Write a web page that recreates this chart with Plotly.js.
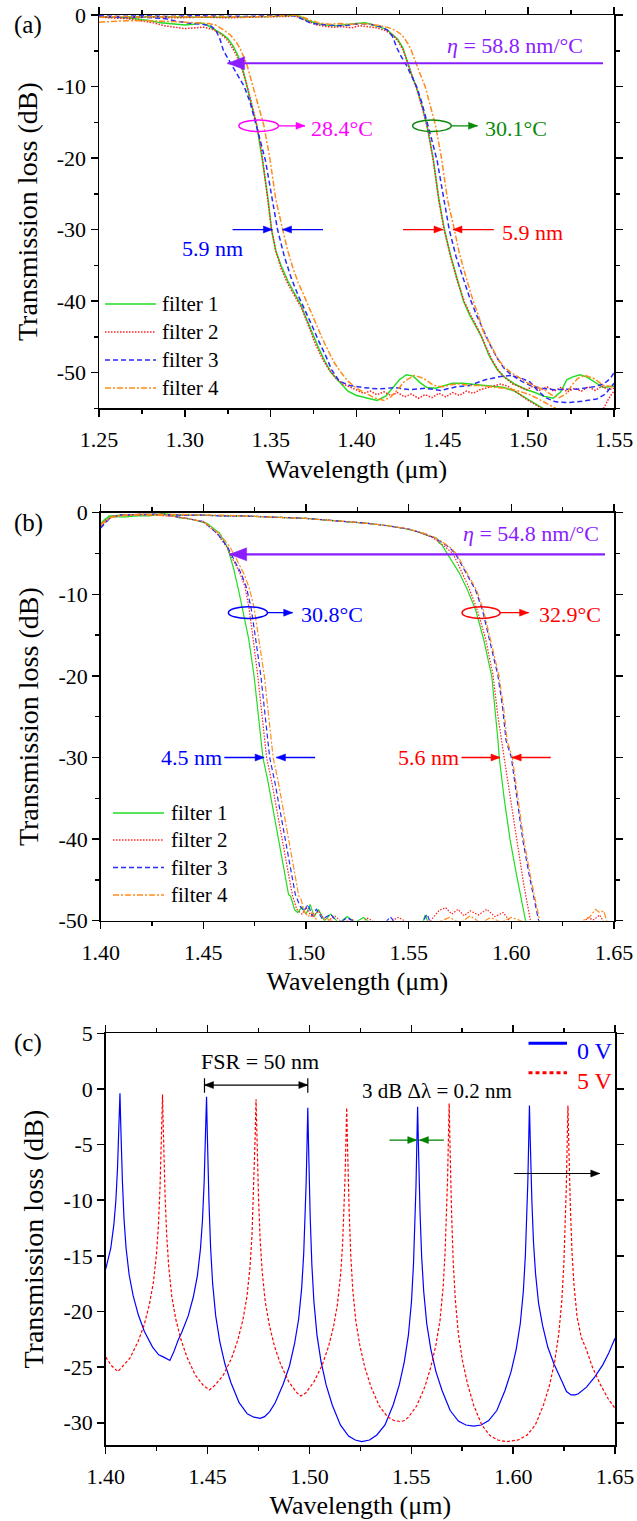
<!DOCTYPE html>
<html>
<head>
<meta charset="utf-8">
<script src="https://cdn.plot.ly/plotly-3.0.1.min.js"></script>
<style>html,body{margin:0;padding:0;background:#fff;}#plot{width:637px;height:1521px;}</style>
</head>
<body>
<div id="plot"></div>
<script>
const FONT = '"Liberation Serif", "Times New Roman", Times, serif';
const GREEN = '#22dd22', RED = '#ff2020', BLUE = '#2a2aff', ORANGE = '#ff8c1a';
const PURPLE = '#8a1cff', MAGENTA = '#ff00ff', DKGREEN = '#0a8a0a';

// ---------- panel (a): [wavelength um, loss dB] ----------
const a_f1_284 = [[1.250,-0.3],[1.260,-0.3],[1.270,-0.5],[1.280,-0.8],[1.286,-1.1],[1.295,-1.3],[1.300,-1.4],[1.305,-1.3],[1.309,-1.1],[1.313,-1.4],[1.318,-2.1],[1.322,-2.7],[1.325,-3.3],[1.328,-4.3],[1.331,-5.7],[1.334,-7.8],[1.336,-9.8],[1.339,-12.6],[1.342,-15.6],[1.345,-20.0],[1.3485,-25.8],[1.3505,-30.0],[1.353,-33.0],[1.356,-35.0],[1.360,-37.2],[1.364,-39.0],[1.3675,-40.5],[1.371,-42.6],[1.3747,-44.8],[1.378,-46.6],[1.3815,-48.4],[1.3852,-50.0],[1.390,-51.3],[1.395,-52.6],[1.400,-53.2],[1.406,-53.5],[1.412,-53.9],[1.417,-53.3],[1.421,-52.2],[1.425,-51.0],[1.429,-50.3],[1.433,-50.5],[1.437,-51.4],[1.441,-52.1],[1.446,-52.2],[1.451,-51.8],[1.456,-51.5],[1.462,-51.5],[1.470,-51.7],[1.478,-51.9],[1.486,-52.1],[1.492,-52.6],[1.497,-53.3],[1.502,-54.0],[1.507,-54.8],[1.512,-55.5],[1.518,-56.5]];
const a_f1_301 = [[1.250,-0.2],[1.262,-0.3],[1.275,-0.2],[1.290,-0.3],[1.305,-0.3],[1.320,-0.3],[1.335,-0.3],[1.350,-0.2],[1.360,-0.1],[1.364,0.0],[1.368,-0.3],[1.372,-0.8],[1.377,-1.2],[1.382,-1.4],[1.388,-1.5],[1.394,-1.4],[1.400,-1.2],[1.405,-1.1],[1.410,-1.4],[1.414,-1.7],[1.418,-2.1],[1.421,-2.7],[1.424,-3.4],[1.427,-4.6],[1.4298,-6.7],[1.432,-8.3],[1.435,-10.2],[1.438,-12.6],[1.441,-15.4],[1.4446,-20.0],[1.448,-25.8],[1.4512,-30.0],[1.455,-33.8],[1.459,-37.2],[1.4623,-40.0],[1.466,-42.0],[1.4695,-43.6],[1.4729,-45.0],[1.477,-47.5],[1.482,-49.6],[1.486,-50.6],[1.492,-51.6],[1.499,-52.4],[1.504,-52.8],[1.5088,-53.3],[1.5146,-53.6],[1.519,-52.7],[1.5225,-51.0],[1.526,-50.6],[1.5302,-50.3],[1.534,-50.6],[1.538,-51.2],[1.5438,-52.1],[1.550,-51.9]];
const a_f2_284 = [[1.250,-0.3],[1.258,-0.4],[1.266,-0.5],[1.274,-0.8],[1.282,-1.1],[1.288,-1.5],[1.294,-1.7],[1.300,-1.9],[1.306,-1.8],[1.311,-1.7],[1.316,-2.0],[1.320,-2.5],[1.324,-3.3],[1.327,-4.3],[1.330,-5.6],[1.333,-7.4],[1.336,-9.6],[1.339,-12.4],[1.342,-15.4],[1.345,-19.6],[1.348,-25.2],[1.3505,-30.0],[1.353,-33.0],[1.356,-35.4],[1.360,-37.6],[1.364,-39.2],[1.368,-41.0],[1.372,-43.4],[1.376,-46.0],[1.380,-48.0],[1.384,-49.6],[1.388,-50.8],[1.392,-51.6],[1.396,-52.0],[1.400,-52.4],[1.404,-52.9],[1.408,-52.6],[1.412,-53.1],[1.416,-52.7],[1.420,-53.2],[1.424,-52.8],[1.428,-53.4],[1.432,-53.0],[1.436,-53.6],[1.440,-53.1],[1.444,-53.5],[1.448,-52.9],[1.452,-53.4],[1.456,-52.8],[1.460,-53.2],[1.464,-52.6],[1.468,-52.9],[1.472,-52.4],[1.476,-52.1],[1.480,-51.8],[1.484,-51.6],[1.488,-51.9],[1.492,-52.5],[1.496,-53.2],[1.500,-53.9],[1.504,-54.4],[1.508,-55.0],[1.512,-56.0],[1.540,-56.0],[1.544,-55.0],[1.547,-53.6],[1.550,-52.6]];
const a_f2_301 = [[1.250,-0.3],[1.265,-0.4],[1.280,-0.3],[1.295,-0.4],[1.310,-0.3],[1.325,-0.4],[1.340,-0.3],[1.352,-0.3],[1.360,-0.2],[1.364,-0.1],[1.368,-0.5],[1.372,-1.0],[1.377,-1.4],[1.382,-1.6],[1.387,-1.7],[1.392,-1.6],[1.397,-1.8],[1.402,-1.5],[1.407,-1.6],[1.412,-1.8],[1.417,-2.2],[1.421,-2.8],[1.424,-3.6],[1.427,-4.8],[1.430,-6.8],[1.433,-8.9],[1.436,-11.0],[1.439,-13.6],[1.442,-16.5],[1.445,-20.8],[1.448,-26.0],[1.451,-30.0],[1.455,-34.0],[1.459,-37.4],[1.463,-40.2],[1.467,-42.2],[1.471,-44.0],[1.475,-46.2],[1.479,-48.3],[1.483,-49.8],[1.487,-50.8],[1.491,-51.6],[1.495,-52.0],[1.499,-52.4],[1.503,-51.9],[1.507,-52.5],[1.511,-52.0],[1.515,-52.6],[1.519,-52.1],[1.523,-52.7],[1.527,-52.2],[1.531,-52.6],[1.535,-52.0],[1.539,-52.5],[1.543,-51.9],[1.547,-52.4],[1.550,-52.2]];
const a_f3_284 = [[1.250,-0.2],[1.262,-0.3],[1.275,-0.3],[1.288,-0.5],[1.296,-0.9],[1.304,-1.2],[1.310,-1.3],[1.315,-1.5],[1.318,-2.1],[1.3205,-3.4],[1.3225,-5.0],[1.325,-6.0],[1.328,-7.2],[1.3315,-8.6],[1.3346,-10.0],[1.338,-12.2],[1.341,-14.8],[1.344,-17.6],[1.347,-20.4],[1.3505,-25.2],[1.354,-30.0],[1.358,-33.8],[1.362,-36.8],[1.366,-39.2],[1.370,-41.2],[1.374,-43.4],[1.378,-45.6],[1.382,-47.6],[1.3855,-49.6],[1.390,-51.2],[1.396,-51.8],[1.404,-52.1],[1.413,-52.3],[1.422,-52.1],[1.431,-52.4],[1.440,-52.2],[1.449,-52.5],[1.458,-52.0],[1.466,-51.8],[1.475,-51.0],[1.483,-50.6],[1.490,-50.4],[1.496,-50.8],[1.501,-51.3],[1.505,-52.4],[1.510,-53.5],[1.516,-54.1],[1.524,-54.2],[1.532,-54.0],[1.540,-53.7],[1.545,-53.0],[1.550,-51.5]];
const a_f3_301 = [[1.250,-0.1],[1.262,-0.2],[1.275,-0.1],[1.290,-0.2],[1.305,-0.1],[1.320,-0.2],[1.335,-0.2],[1.350,-0.1],[1.360,0.0],[1.365,-0.2],[1.369,-0.6],[1.373,-1.1],[1.378,-1.3],[1.384,-1.4],[1.390,-1.5],[1.396,-1.4],[1.402,-1.2],[1.408,-1.3],[1.414,-1.6],[1.418,-2.1],[1.421,-3.0],[1.4235,-4.6],[1.426,-5.8],[1.429,-7.0],[1.432,-8.4],[1.435,-10.0],[1.438,-12.2],[1.441,-14.8],[1.444,-17.6],[1.447,-20.4],[1.4505,-25.2],[1.454,-30.0],[1.458,-33.8],[1.462,-36.8],[1.466,-39.6],[1.470,-42.0],[1.474,-44.2],[1.478,-46.2],[1.482,-48.0],[1.486,-49.4],[1.490,-50.3],[1.496,-51.2],[1.502,-51.9],[1.508,-52.2],[1.515,-52.4],[1.522,-52.4],[1.530,-52.3],[1.538,-52.0],[1.544,-51.6],[1.548,-50.8],[1.550,-50.0]];
const a_f4_284 = [[1.250,-1.0],[1.258,-0.9],[1.266,-0.8],[1.275,-0.8],[1.284,-0.8],[1.292,-0.9],[1.300,-1.0],[1.308,-1.1],[1.314,-1.2],[1.318,-1.4],[1.322,-2.0],[1.3265,-2.8],[1.330,-3.8],[1.332,-4.6],[1.334,-5.6],[1.336,-6.8],[1.3397,-10.0],[1.343,-12.8],[1.346,-15.4],[1.3495,-20.0],[1.353,-25.8],[1.357,-30.0],[1.360,-33.0],[1.363,-35.4],[1.366,-37.4],[1.369,-39.0],[1.3725,-41.0],[1.376,-43.0],[1.380,-45.2],[1.384,-47.2],[1.387,-48.6],[1.391,-50.0],[1.395,-51.2],[1.400,-52.2],[1.405,-52.9],[1.410,-53.5],[1.416,-53.9],[1.420,-53.4],[1.424,-52.4],[1.428,-51.2],[1.4338,-50.4],[1.439,-50.8],[1.445,-51.8],[1.450,-52.0],[1.455,-51.7],[1.460,-51.6],[1.466,-51.8],[1.472,-51.8],[1.478,-52.0],[1.484,-52.2],[1.490,-52.3],[1.496,-52.7],[1.501,-53.1],[1.506,-53.7],[1.511,-54.3],[1.516,-55.0],[1.521,-56.0]];
const a_f4_301 = [[1.250,-0.3],[1.262,-0.2],[1.275,-0.3],[1.290,-0.2],[1.305,-0.3],[1.320,-0.2],[1.335,-0.3],[1.350,-0.2],[1.358,-0.1],[1.363,0.0],[1.368,-0.2],[1.373,-0.7],[1.378,-1.1],[1.384,-1.3],[1.390,-1.2],[1.396,-1.3],[1.402,-1.2],[1.408,-1.3],[1.414,-1.5],[1.419,-1.8],[1.423,-2.2],[1.4265,-2.8],[1.430,-4.0],[1.432,-5.0],[1.4345,-6.7],[1.437,-8.2],[1.440,-10.0],[1.443,-12.6],[1.446,-15.4],[1.4495,-20.0],[1.453,-25.8],[1.457,-30.0],[1.460,-33.4],[1.463,-36.0],[1.466,-38.4],[1.468,-40.0],[1.471,-42.0],[1.4735,-44.0],[1.4753,-45.0],[1.478,-46.0],[1.482,-48.0],[1.486,-49.2],[1.490,-50.0],[1.495,-50.8],[1.500,-51.5],[1.505,-52.0],[1.510,-52.5],[1.514,-53.2],[1.518,-53.5],[1.522,-53.0],[1.526,-51.6],[1.529,-50.8],[1.533,-50.4],[1.538,-50.8],[1.544,-51.8],[1.550,-52.0]];

// ---------- panel (b) ----------
const b_f1_308 = [[1.400,-1.6],[1.402,-1.0],[1.404,-0.4],[1.407,-0.5],[1.412,-0.5],[1.418,-0.4],[1.424,-0.4],[1.430,-0.1],[1.434,-0.2],[1.438,-0.6],[1.444,-0.8],[1.4518,-1.3],[1.4579,-2.5],[1.4618,-4.3],[1.4648,-6.9],[1.4674,-9.8],[1.4693,-12.2],[1.4721,-15.5],[1.4747,-20.0],[1.4777,-27.0],[1.4790,-30.0],[1.4815,-33.0],[1.4836,-36.0],[1.4866,-40.1],[1.4896,-44.2],[1.4915,-46.8],[1.4925,-47.0],[1.4945,-48.7],[1.496,-49.0],[1.498,-48.3],[1.500,-49.2],[1.502,-48.0],[1.504,-49.5],[1.506,-48.6],[1.509,-50.0],[1.512,-49.2],[1.516,-50.3],[1.520,-49.5],[1.524,-50.2],[1.528,-49.6],[1.532,-50.4],[1.536,-51.0],[1.556,-51.0],[1.558,-49.3],[1.560,-50.5]];
const b_f1_329 = [[1.400,-1.3],[1.402,-0.8],[1.405,-0.4],[1.410,-0.3],[1.420,-0.2],[1.430,-0.2],[1.440,-0.3],[1.450,-0.3],[1.460,-0.4],[1.470,-0.4],[1.480,-0.5],[1.490,-0.6],[1.500,-0.7],[1.510,-0.9],[1.520,-1.1],[1.530,-1.3],[1.540,-1.6],[1.549,-2.0],[1.555,-2.4],[1.559,-2.8],[1.5635,-3.1],[1.5647,-3.7],[1.5660,-3.9],[1.5688,-5.0],[1.5747,-7.4],[1.5787,-9.5],[1.5826,-11.9],[1.5866,-15.6],[1.5905,-20.1],[1.5935,-27.9],[1.5941,-30.0],[1.5965,-35.0],[1.5994,-40.1],[1.6024,-44.2],[1.6045,-47.0],[1.6069,-50.0],[1.6085,-51.0],[1.612,-52.0]];
const b_f2_308 = [[1.400,-1.8],[1.402,-1.2],[1.405,-0.6],[1.410,-0.3],[1.418,-0.2],[1.426,-0.3],[1.434,-0.4],[1.442,-0.7],[1.450,-1.1],[1.4565,-2.5],[1.4614,-4.2],[1.4645,-5.8],[1.4678,-7.4],[1.4703,-9.1],[1.4722,-11.6],[1.4740,-15.0],[1.4765,-20.0],[1.4795,-27.0],[1.4808,-30.0],[1.4833,-33.0],[1.4854,-36.0],[1.4884,-40.1],[1.4914,-44.2],[1.4935,-47.0],[1.4955,-48.6],[1.498,-49.2],[1.500,-48.4],[1.503,-49.6],[1.506,-48.8],[1.510,-50.2],[1.514,-49.4],[1.518,-50.3],[1.522,-49.8],[1.526,-50.4],[1.530,-49.7],[1.535,-50.4],[1.540,-50.2],[1.545,-49.6],[1.550,-50.3],[1.555,-50.6],[1.560,-50.2],[1.565,-48.7],[1.568,-48.4],[1.571,-49.2],[1.574,-48.6],[1.577,-49.4],[1.580,-48.8],[1.584,-49.3],[1.588,-48.6],[1.592,-49.5],[1.596,-49.0],[1.600,-50.3],[1.604,-51.0],[1.634,-51.0],[1.637,-49.6],[1.640,-49.9],[1.643,-49.3],[1.646,-50.6]];
const b_f2_329 = [[1.400,-1.5],[1.402,-1.0],[1.405,-0.5],[1.410,-0.3],[1.420,-0.2],[1.430,-0.2],[1.440,-0.3],[1.450,-0.3],[1.460,-0.4],[1.470,-0.4],[1.480,-0.5],[1.490,-0.6],[1.500,-0.7],[1.510,-0.9],[1.520,-1.1],[1.530,-1.3],[1.540,-1.6],[1.550,-2.0],[1.556,-2.5],[1.561,-3.0],[1.565,-3.6],[1.568,-4.2],[1.5715,-5.0],[1.575,-6.8],[1.5795,-9.3],[1.5835,-12.0],[1.5875,-15.5],[1.591,-19.8],[1.5935,-25.0],[1.5965,-30.0],[1.5995,-35.0],[1.603,-41.0],[1.606,-45.5],[1.6093,-50.0],[1.611,-51.0]];
const b_f3_308 = [[1.400,-1.9],[1.402,-1.3],[1.405,-0.5],[1.410,-0.3],[1.418,-0.3],[1.426,-0.2],[1.434,-0.4],[1.442,-0.7],[1.450,-1.1],[1.4570,-2.6],[1.4620,-4.3],[1.4652,-5.9],[1.4685,-7.5],[1.4710,-9.2],[1.4732,-11.6],[1.4752,-15.0],[1.4780,-20.0],[1.4810,-27.0],[1.4823,-30.0],[1.4848,-33.0],[1.4869,-36.0],[1.4899,-40.1],[1.4929,-44.2],[1.4948,-46.8],[1.4955,-47.2],[1.497,-48.2],[1.499,-48.8],[1.501,-48.0],[1.503,-49.4],[1.505,-48.6],[1.508,-49.8],[1.512,-49.2],[1.516,-50.4],[1.520,-49.6],[1.525,-50.4],[1.530,-50.6],[1.538,-50.5],[1.541,-49.5],[1.544,-50.4],[1.550,-50.6],[1.556,-50.5],[1.559,-49.2],[1.561,-50.6],[1.565,-51.0]];
const b_f3_329 = [[1.400,-1.8],[1.402,-1.2],[1.405,-0.5],[1.410,-0.3],[1.420,-0.2],[1.430,-0.2],[1.440,-0.3],[1.450,-0.3],[1.460,-0.4],[1.470,-0.4],[1.480,-0.5],[1.490,-0.6],[1.500,-0.7],[1.510,-0.9],[1.520,-1.1],[1.530,-1.3],[1.540,-1.6],[1.550,-2.0],[1.557,-2.5],[1.562,-3.0],[1.566,-3.6],[1.5695,-4.2],[1.5727,-5.0],[1.5765,-6.8],[1.5826,-9.5],[1.5860,-12.0],[1.5895,-15.6],[1.5935,-20.0],[1.5958,-24.0],[1.5974,-27.9],[1.600,-30.0],[1.6028,-35.0],[1.6055,-40.0],[1.609,-44.8],[1.6133,-50.0],[1.615,-51.0]];
const b_f4_308 = [[1.400,-1.6],[1.402,-1.1],[1.405,-0.6],[1.410,-0.4],[1.418,-0.3],[1.426,-0.3],[1.434,-0.4],[1.442,-0.7],[1.450,-1.1],[1.4580,-2.6],[1.4632,-4.3],[1.4665,-5.9],[1.4698,-7.5],[1.4723,-9.2],[1.4747,-11.6],[1.4767,-15.0],[1.4797,-20.0],[1.4827,-27.0],[1.4840,-30.0],[1.4865,-33.0],[1.4886,-36.0],[1.4916,-40.1],[1.4946,-44.2],[1.4965,-47.0],[1.4975,-47.3],[1.499,-48.8],[1.501,-49.5],[1.503,-49.0],[1.506,-50.3],[1.510,-49.7],[1.515,-50.4],[1.520,-50.6],[1.530,-50.5],[1.545,-50.5],[1.560,-50.6],[1.570,-49.6],[1.575,-50.3],[1.580,-49.4],[1.585,-50.3],[1.590,-49.6],[1.595,-50.2],[1.600,-49.6],[1.610,-50.5],[1.620,-50.6],[1.630,-50.6],[1.638,-49.6],[1.641,-48.6],[1.643,-49.0],[1.645,-48.8],[1.647,-50.5]];
const b_f4_329 = [[1.400,-1.4],[1.402,-1.0],[1.405,-0.5],[1.410,-0.3],[1.420,-0.2],[1.430,-0.2],[1.440,-0.2],[1.450,-0.3],[1.460,-0.3],[1.470,-0.4],[1.480,-0.5],[1.490,-0.6],[1.500,-0.7],[1.510,-0.9],[1.520,-1.1],[1.530,-1.3],[1.540,-1.6],[1.550,-2.0],[1.557,-2.5],[1.5625,-3.0],[1.5665,-3.6],[1.570,-4.2],[1.5732,-5.0],[1.577,-6.8],[1.5831,-9.5],[1.5865,-12.0],[1.590,-15.6],[1.594,-20.0],[1.5963,-24.0],[1.5979,-27.9],[1.6005,-30.0],[1.6033,-35.0],[1.606,-40.0],[1.6095,-44.8],[1.6138,-50.0],[1.616,-51.0]];

// ---------- panel (c) ----------
const c_0V = [[1.400,-16.2],[1.4025,-14.3],[1.404,-12.2],[1.405,-10.0],[1.4058,-7.1],[1.4062,-5.3],[1.4066,-2.8],[1.407,-0.4],
[1.4074,-3.3],[1.4078,-6.2],[1.4082,-8.3],[1.409,-11.7],[1.410,-14.3],[1.4115,-16.7],[1.4135,-18.6],[1.416,-20.3],[1.419,-21.8],[1.423,-23.2],[1.426,-23.9],[1.4285,-24.1],[1.4315,-24.4],[1.4335,-23.6],[1.4355,-22.6],[1.4375,-21.8],[1.4405,-20.4],[1.443,-18.7],[1.445,-16.8],[1.4465,-14.4],[1.4475,-11.8],[1.4483,-8.5],[1.4487,-6.4],[1.4491,-3.5],[1.4495,-0.7],
[1.4499,-4.2],[1.4503,-7.6],[1.4507,-10.2],[1.4515,-14.3],[1.4525,-17.5],[1.454,-20.4],[1.456,-22.7],[1.4585,-24.7],[1.4615,-26.4],[1.4655,-28.2],[1.4695,-29.2],[1.4727,-29.5],[1.4758,-29.6],[1.4780,-29.45],[1.4805,-29.0],[1.4832,-28.2],[1.4872,-26.5],[1.4902,-24.9],[1.4927,-22.9],[1.4947,-20.7],[1.4962,-17.9],[1.4972,-14.8],[1.498,-10.9],[1.4984,-8.4],[1.4988,-5.1],[1.4992,-1.7],
[1.4996,-5.3],[1.5000,-8.9],[1.5004,-11.6],[1.5012,-15.8],[1.5022,-19.1],[1.5037,-22.1],[1.5057,-24.5],[1.5082,-26.6],[1.5112,-28.4],[1.5152,-30.2],[1.5192,-31.2],[1.5225,-31.55],[1.5257,-31.7],[1.5295,-31.55],[1.5331,-31.1],[1.5371,-30.2],[1.5411,-28.4],[1.5441,-26.6],[1.5466,-24.5],[1.5486,-22.1],[1.5501,-19.1],[1.5511,-15.7],[1.5519,-11.5],[1.5523,-8.8],[1.5527,-5.2],[1.5531,-1.6],
[1.5535,-5.0],[1.5539,-8.5],[1.5543,-11.1],[1.5551,-15.1],[1.5561,-18.2],[1.5576,-21.1],[1.5596,-23.4],[1.5621,-25.4],[1.5651,-27.1],[1.5691,-28.9],[1.5731,-29.85],[1.5768,-30.2],[1.5806,-30.3],[1.5843,-30.2],[1.5880,-29.8],[1.5920,-28.9],[1.5960,-27.1],[1.5990,-25.4],[1.6015,-23.4],[1.6035,-21.1],[1.6050,-18.2],[1.6060,-15.0],[1.6068,-11.0],[1.6072,-8.4],[1.6076,-5.0],[1.6080,-1.5],
[1.6084,-4.6],[1.6088,-7.8],[1.6092,-10.1],[1.6100,-13.8],[1.6110,-16.6],[1.6125,-19.3],[1.6145,-21.3],[1.6170,-23.2],[1.6200,-24.7],[1.6240,-26.3],[1.6262,-27.2],[1.6284,-27.5],[1.6305,-27.5],[1.632,-27.4],[1.636,-26.8],[1.640,-25.9],[1.644,-24.8],[1.647,-23.7],[1.650,-22.4]];
const c_5V = [[1.400,-24.1],[1.403,-24.9],[1.406,-25.4],[1.4079,-25.0],[1.4119,-24.2],[1.4159,-22.7],[1.4189,-21.2],[1.4214,-19.4],[1.4234,-17.4],[1.4249,-14.9],[1.4259,-12.2],[1.4267,-8.7],[1.4271,-6.5],[1.4275,-3.5],[1.4279,-0.5],
[1.4283,-3.7],[1.4287,-6.9],[1.4291,-9.3],[1.4299,-13.0],[1.4309,-15.9],[1.4324,-18.6],[1.4344,-20.7],[1.4369,-22.5],[1.4399,-24.1],[1.4439,-25.7],[1.4479,-26.65],[1.4509,-27.05],[1.4538,-26.6],[1.4578,-25.7],[1.4618,-24.2],[1.4648,-22.6],[1.4673,-20.8],[1.4693,-18.7],[1.4708,-16.1],[1.4718,-13.2],[1.4726,-9.5],[1.4730,-7.2],[1.4734,-4.1],[1.4738,-0.93],
[1.4742,-4.1],[1.4746,-7.3],[1.4750,-9.7],[1.4758,-13.5],[1.4768,-16.4],[1.4783,-19.1],[1.4803,-21.2],[1.4828,-23.1],[1.4858,-24.7],[1.4898,-26.3],[1.4938,-27.3],[1.4958,-27.6],[1.4983,-27.3],[1.5023,-26.3],[1.5063,-24.8],[1.5093,-23.2],[1.5118,-21.4],[1.5138,-19.3],[1.5153,-16.7],[1.5163,-13.9],[1.5171,-10.3],[1.5175,-7.9],[1.5179,-4.8],[1.5183,-1.7],
[1.5187,-5.1],[1.5191,-8.5],[1.5195,-11.0],[1.5203,-15.0],[1.5213,-18.1],[1.5228,-20.9],[1.5248,-23.1],[1.5273,-25.1],[1.5303,-26.8],[1.5343,-28.5],[1.5383,-29.45],[1.5415,-29.8],[1.5447,-29.9],[1.5467,-29.8],[1.5486,-29.5],[1.5526,-28.5],[1.5566,-26.8],[1.5596,-25.0],[1.5621,-23.0],[1.5641,-20.8],[1.5656,-17.9],[1.5666,-14.7],[1.5674,-10.7],[1.5678,-8.2],[1.5682,-4.7],[1.5686,-1.3],
[1.5690,-5.0],[1.5694,-8.6],[1.5698,-11.3],[1.5706,-15.6],[1.5716,-18.9],[1.5731,-22.0],[1.5751,-24.4],[1.5776,-26.5],[1.5806,-28.4],[1.5846,-30.2],[1.5886,-31.15],[1.5925,-31.55],[1.5965,-31.7],[1.6025,-31.55],[1.6069,-31.1],[1.6109,-30.2],[1.6149,-28.4],[1.6179,-26.6],[1.6204,-24.5],[1.6224,-22.0],[1.6239,-19.0],[1.6249,-15.7],[1.6257,-11.5],[1.6261,-8.8],[1.6265,-5.1],[1.6269,-1.5],
[1.6273,-4.9],[1.6277,-8.2],[1.6281,-10.7],[1.6289,-14.7],[1.6299,-17.7],[1.6314,-20.5],[1.6334,-22.3],[1.6359,-23.4],[1.6389,-25.0],[1.6429,-26.6],[1.6465,-27.8],[1.6500,-28.7]];

// tick labels
const xTicksA = [1.25,1.30,1.35,1.40,1.45,1.50,1.55];
const xTickTextA = ['1.25','1.30','1.35','1.40','1.45','1.50','1.55'];
const xTicksBC = [1.40,1.45,1.50,1.55,1.60,1.65];
const xTickTextBC = ['1.40','1.45','1.50','1.55','1.60','1.65'];
const yTicksAB = [0,-10,-20,-30,-40,-50];
const yTickTextAB = ['0','-10','-20','-30','-40','-50'];
const yTicksC = [5,0,-5,-10,-15,-20,-25,-30];
const yTickTextC = ['5','0','-5','-10','-15','-20','-25','-30'];
const legendNames = ['filter 1','filter 2','filter 3','filter 4'];

// ---------- build ----------
const W = 637, H = 1521;
const px = v => v / W, py = v => 1 - v / H;
const styles = [
  {color: GREEN, dash: 'solid'},
  {color: RED, dash: '1.5px,1.5px'},
  {color: BLUE, dash: '5px,3px'},
  {color: ORANGE, dash: '6px,2px,2px,2px'}
];
function tr(pts, xa, ya, st, w) {
  return {x: pts.map(p => p[0]), y: pts.map(p => p[1]), xaxis: xa, yaxis: ya, type: 'scatter', mode: 'lines',
          line: {color: st.color, dash: st.dash, width: w}, hoverinfo: 'skip', showlegend: false};
}
const traces = [];
[[a_f1_284,a_f1_301],[a_f2_284,a_f2_301],[a_f3_284,a_f3_301],[a_f4_284,a_f4_301]].forEach((pair,i) => {
  pair.forEach(p => traces.push(tr(p, 'x', 'y', styles[i], 1.5)));
});
[[b_f1_308,b_f1_329],[b_f2_308,b_f2_329],[b_f3_308,b_f3_329],[b_f4_308,b_f4_329]].forEach((pair,i) => {
  pair.forEach(p => traces.push(tr(p, 'x2', 'y2', styles[i], 1.2)));
});
traces.push(tr(c_0V, 'x3', 'y3', {color: '#0000ff', dash: 'solid'}, 1.2));
traces.push(tr(c_5V, 'x3', 'y3', {color: '#ff0000', dash: '3px,2px'}, 1.2));

function ax(extra) {
  return Object.assign({showline: true, linecolor: '#000', linewidth: 1.5, mirror: 'ticks', ticks: 'outside',
    ticklen: 7, tickwidth: 1.5, tickcolor: '#000', showgrid: false, zeroline: false, fixedrange: true,
    tickmode: 'array', tickfont: {family: FONT, size: 22, color: '#000'}}, extra);
}
const minorX = {tickmode: 'linear', dtick: 0.025, ticks: 'outside', ticklen: 4, tickwidth: 1.5, tickcolor: '#000'};
const minorY = {tickmode: 'linear', tick0: 0, dtick: 5, ticks: 'outside', ticklen: 4, tickwidth: 1.5, tickcolor: '#000'};
const xTitle = {text: 'Wavelength (\u03bcm)', font: {family: FONT, size: 26, color: '#000'}, standoff: 8};
const yTitle = {text: 'Transmission loss (dB)', font: {family: FONT, size: 28, color: '#000'}, standoff: 11};

const layout = {
  width: W, height: H, margin: {l: 0, r: 0, t: 0, b: 0}, showlegend: false,
  paper_bgcolor: '#fff', plot_bgcolor: '#fff', font: {family: FONT, size: 22, color: '#000'},
  xaxis: ax({domain: [px(99), px(614)], range: [1.25, 1.55], anchor: 'y', tickvals: xTicksA, ticktext: xTickTextA, minor: Object.assign({tick0: 1.25}, minorX), title: xTitle, ticklabelstandoff: 4}),
  yaxis: ax({domain: [py(408.3), py(15)], range: [-55, 0], anchor: 'x', tickvals: yTicksAB, ticktext: yTickTextAB, minor: minorY, title: yTitle}),
  xaxis2: ax({domain: [px(100.7), px(614)], range: [1.40, 1.65], anchor: 'y2', tickvals: xTicksBC, ticktext: xTickTextBC, minor: Object.assign({tick0: 1.40}, minorX), title: xTitle, ticklabelstandoff: 4}),
  yaxis2: ax({domain: [py(920.7), py(512.7)], range: [-50, 0], anchor: 'x2', tickvals: yTicksAB, ticktext: yTickTextAB, minor: minorY, title: yTitle}),
  xaxis3: ax({domain: [px(105.7), px(615)], range: [1.40, 1.65], anchor: 'y3', tickvals: xTicksBC, ticktext: xTickTextBC, minor: Object.assign({tick0: 1.40}, minorX), title: xTitle, ticklabelstandoff: 4}),
  yaxis3: ax({domain: [py(1445), py(1033.3)], range: [-32, 5], anchor: 'x3', tickvals: yTicksC, ticktext: yTickTextC, title: yTitle}),
  shapes: [], annotations: []
};

const S = layout.shapes, A = layout.annotations;
function txt(x, y, text, color, size, xref, yref, xanchor) {
  A.push({x, y, xref, yref, text, showarrow: false, xanchor: xanchor || 'center', yanchor: 'middle',
          font: {family: FONT, size, color}});
}
// arrow drawn as a line plus a filled triangular head (pixel-sized, anchored at the tip)
function head(x, y, dir, color, xref, yref, len, hw) {
  S.push({type: 'path', xref, yref, xsizemode: 'pixel', ysizemode: 'pixel', xanchor: x, yanchor: y,
          path: 'M0,0 L' + (-dir * len) + ',' + hw + ' L' + (-dir * len) + ',' + (-hw) + ' Z',
          fillcolor: color, line: {color: color, width: 0.5}});
}
function arrow(x, y, tailX, tailY, color, xref, yref, lw, len, hw) {
  S.push({type: 'line', xref, yref, x0: tailX, y0: tailY, x1: x, y1: y, line: {color, width: lw}});
  head(x, y, x > tailX ? 1 : -1, color, xref, yref, len || 9, hw || 3.5);
}
function ell(x0, x1, y0, y1, color, xref, yref) {
  S.push({type: 'circle', xref, yref, x0, x1, y0, y1, line: {color, width: 1.5}});
}

// panel labels
txt(px(28), py(25), '(a)', '#000', 25, 'paper', 'paper');
txt(px(28), py(523), '(b)', '#000', 25, 'paper', 'paper');
txt(px(28), py(1043), '(c)', '#000', 25, 'paper', 'paper');

// (a) annotations
arrow(1.3249, -6.75, 1.5436, -6.75, PURPLE, 'x', 'y', 2.2, 17, 6.5);
txt(1.4923, -4.2, '<i>\u03b7</i> = 58.8 nm/\u00b0C', PURPLE, 22, 'x', 'y');
ell(1.3315, 1.3545, -14.7, -16.3, MAGENTA, 'x', 'y');
arrow(1.370, -15.5, 1.3546, -15.5, MAGENTA, 'x', 'y', 1.3);
txt(1.3723, -15.9, '28.4\u00b0C', MAGENTA, 22, 'x', 'y', 'left');
ell(1.4327, 1.4552, -14.7, -16.3, DKGREEN, 'x', 'y');
arrow(1.4705, -15.5, 1.4552, -15.5, DKGREEN, 'x', 'y', 1.3);
txt(1.4737, -15.9, '30.1\u00b0C', DKGREEN, 22, 'x', 'y', 'left');
arrow(1.351, -30, 1.3278, -30, '#0000ff', 'x', 'y', 1.3);
arrow(1.3569, -30, 1.3805, -30, '#0000ff', 'x', 'y', 1.3);
txt(1.3161, -32.6, '5.9 nm', '#0000ff', 22, 'x', 'y');
arrow(1.4504, -30, 1.4271, -30, '#ff0000', 'x', 'y', 1.3);
arrow(1.4562, -30, 1.480, -30, '#ff0000', 'x', 'y', 1.3);
txt(1.4836, -30.4, '5.9 nm', '#ff0000', 22, 'x', 'y', 'left');

// (b) annotations
arrow(1.4628, -5.1, 1.6456, -5.1, PURPLE, 'x2', 'y2', 2.2, 17, 6.5);
txt(1.6096, -2.5, '<i>\u03b7</i> = 54.8 nm/\u00b0C', PURPLE, 22, 'x2', 'y2');
ell(1.4622, 1.4812, -11.53, -12.97, '#0000ff', 'x2', 'y2');
arrow(1.4935, -12.25, 1.4812, -12.25, '#0000ff', 'x2', 'y2', 1.3);
txt(1.4965, -12.5, '30.8\u00b0C', '#0000ff', 22, 'x2', 'y2', 'left');
ell(1.5760, 1.5945, -11.53, -12.97, '#ff0000', 'x2', 'y2');
arrow(1.6084, -12.25, 1.5945, -12.25, '#ff0000', 'x2', 'y2', 1.3);
txt(1.6123, -12.5, '32.9\u00b0C', '#ff0000', 22, 'x2', 'y2', 'left');
arrow(1.4796, -30, 1.4602, -30, '#0000ff', 'x2', 'y2', 1.3);
arrow(1.4856, -30, 1.5044, -30, '#0000ff', 'x2', 'y2', 1.3);
txt(1.4600, -30, '4.5 nm', '#0000ff', 22, 'x2', 'y2', 'right');
arrow(1.5945, -30, 1.5757, -30, '#ff0000', 'x2', 'y2', 1.3);
arrow(1.6004, -30, 1.6192, -30, '#ff0000', 'x2', 'y2', 1.3);
txt(1.5755, -30, '5.6 nm', '#ff0000', 22, 'x2', 'y2', 'right');

// (c) annotations
txt(1.4757, 2.45, 'FSR = 50 nm', '#000', 22, 'x3', 'y3');
S.push({type: 'line', xref: 'x3', yref: 'y3', x0: 1.4485, x1: 1.4992, y0: 0.35, y1: 0.35, line: {color: '#000', width: 1.2}});
head(1.4485, 0.35, -1, '#000', 'x3', 'y3', 9, 3.5);
head(1.4992, 0.35, 1, '#000', 'x3', 'y3', 9, 3.5);
S.push({type: 'line', xref: 'x3', yref: 'y3', x0: 1.4485, x1: 1.4485, y0: 0.95, y1: -0.35, line: {color: '#000', width: 1.2}});
S.push({type: 'line', xref: 'x3', yref: 'y3', x0: 1.4992, x1: 1.4992, y0: 0.95, y1: -0.35, line: {color: '#000', width: 1.2}});
txt(1.5627, -0.16, '3 dB \u0394\u03bb = 0.2 nm', '#000', 21, 'x3', 'y3');
arrow(1.5527, -4.6, 1.5393, -4.6, '#008000', 'x3', 'y3', 1.3);
arrow(1.5540, -4.6, 1.5660, -4.6, '#008000', 'x3', 'y3', 1.3);
arrow(1.6425, -7.6, 1.6005, -7.6, '#000', 'x3', 'y3', 1.2);

// legends (a) and (b)
const legA = [304, 332, 360, 388], legB = [813, 840, 867.5, 895];
legendNames.forEach((n, i) => {
  S.push({type: 'line', xref: 'paper', yref: 'paper', x0: px(105), x1: px(156), y0: py(legA[i]), y1: py(legA[i]),
          line: {color: styles[i].color, dash: styles[i].dash, width: 1.5}});
  txt(px(160), py(legA[i]), n, '#000', 21, 'paper', 'paper', 'left');
  S.push({type: 'line', xref: 'paper', yref: 'paper', x0: px(113), x1: px(164), y0: py(legB[i]), y1: py(legB[i]),
          line: {color: styles[i].color, dash: styles[i].dash, width: 1.4}});
  txt(px(169), py(legB[i]), n, '#000', 21, 'paper', 'paper', 'left');
});
// legend (c)
S.push({type: 'line', xref: 'paper', yref: 'paper', x0: px(528.5), x1: px(567), y0: py(1043.3), y1: py(1043.3), line: {color: '#0000ff', width: 3}});
S.push({type: 'line', xref: 'paper', yref: 'paper', x0: px(528.5), x1: px(567), y0: py(1072.7), y1: py(1072.7), line: {color: '#ff0000', width: 3, dash: '4px,3px'}});
txt(px(575), py(1051), '0 V', '#0000ff', 24, 'paper', 'paper', 'left');
txt(px(575), py(1081), '5 V', '#ff0000', 24, 'paper', 'paper', 'left');

Plotly.newPlot('plot', traces, layout, {staticPlot: true, displayModeBar: false});
</script>
</body>
</html>
